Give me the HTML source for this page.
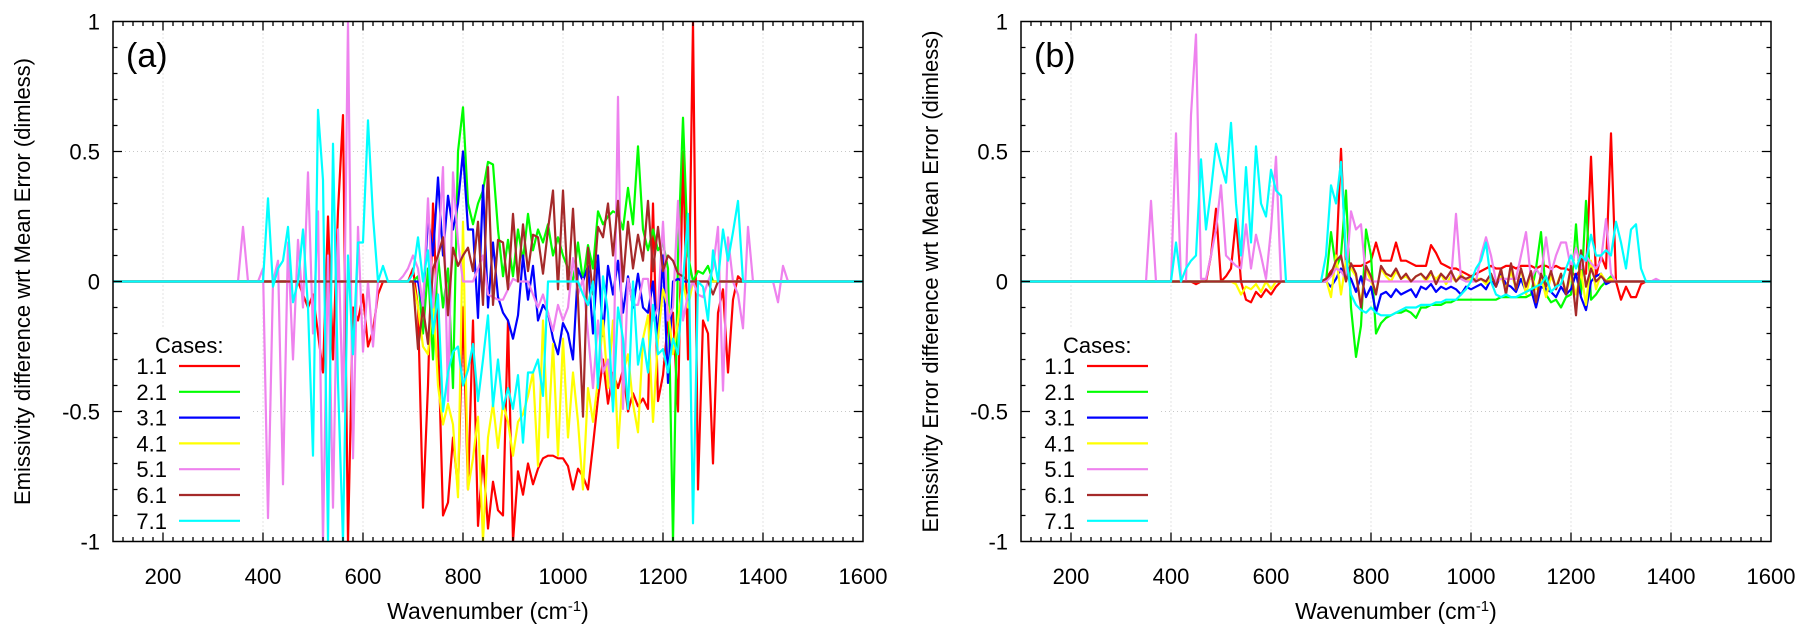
<!DOCTYPE html>
<html><head><meta charset="utf-8"><style>
html,body{margin:0;padding:0;background:#fff}
svg{display:block;font-family:"Liberation Sans",sans-serif}
</style></head><body>
<svg id="chart" width="1815" height="640" viewBox="0 0 1815 640" xmlns="http://www.w3.org/2000/svg">
<defs>
<clipPath id="clipA"><rect x="113" y="21.5" width="750" height="520"/></clipPath>
<clipPath id="clipB"><rect x="1021" y="21.5" width="750" height="520"/></clipPath>
</defs>
</svg>
<script>
// ---- data (wavenumber grid step 10 cm-1 starting at the given start) ----
const STEP = 10;
const caseLabels = ["1.1","2.1","3.1","4.1","5.1","6.1","7.1"];
const caseColors = ["#ff0000","#00ff00","#0000ff","#ffff00","#ee82ee","#a52a2a","#00ffff"];
const xTicks = [200,400,600,800,1000,1200,1400,1600];
const yTicks = [1,0.5,0,-0.5,-1];
const yTickLabels = ["1","0.5","0","-0.5","-1"];

// Panel (a)
const redAStart = 480;
const redA = [-0.05,-0.1,-0.05,-0.2,-0.35,0.25,-0.3,0.27,0.64,-1.0,-0.1,-0.15,-0.05,-0.25,-0.19,-0.05,0,0,0,0,0,0,
0.05,-0.1,-0.87,-0.4,0.3,-0.2,-0.9,-0.85,-0.6,-0.8,-0.1,-0.8,-0.15,-0.94,-0.67,-0.95,-0.77,-0.88,-0.9,-0.15,-1.0,-0.73,-0.82,-0.7,-0.78,-0.72,-0.68,-0.67,-0.67,-0.68,-0.68,-0.71,-0.8,-0.72,-0.75,-0.8,-0.63,-0.45,-0.3,-0.47,-0.35,-0.41,-0.34,-0.5,-0.43,-0.48,-0.45,-0.49,0.3,-0.46,-0.36,-0.15,-0.12,-0.5,0.5,-0.3,1.0,-0.8,-0.15,-0.2,-0.7,-0.12,-0.03,-0.35,-0.07,0.02,0];
const greenAStart = 700;
const greenA = [0,0.02,-0.2,0.05,-0.3,0.1,-0.1,0.05,-0.41,0.5,0.67,0.3,0.22,0.3,0.35,0.46,0.45,0.2,0.02,0.16,0.02,0.2,0.08,0.26,0.12,0.2,0.15,0.22,0.1,0.17,0.1,0.05,0.0,0.15,0.0,0.14,0.05,0.27,0.22,0.25,0.27,0.26,0.2,0.36,0.22,0.52,0.2,0.12,0.2,0.12,0.15,0.05,-1.0,0.1,0.63,0.1,0.0,0.04,0.03,0.06,0.0];
const blueAStart = 700;
const blueA = [0,0,-0.1,0.25,0.1,0.4,0.1,0.33,0.2,0.3,0.5,0.2,0.2,-0.14,0.37,-0.1,0.15,-0.06,-0.12,-0.15,-0.22,-0.13,0.1,-0.07,0.06,-0.15,-0.09,-0.12,-0.22,-0.28,-0.16,-0.2,-0.3,0.05,0.0,0.06,-0.2,0.1,-0.21,0.06,-0.05,0.08,-0.12,0.02,-0.1,0.03,-0.1,-0.12,0.0,-0.22,0.1,-0.39,0.0,0.01,0];
const yellowAStart = 700;
const yellowA = [0,-0.1,-0.25,-0.28,-0.05,-0.4,-0.55,-0.47,-0.55,-0.83,0.23,-0.8,-0.68,-0.52,-1.0,-0.6,-0.47,-0.64,-0.47,-0.54,-0.67,-0.54,-0.51,-0.44,-0.35,-0.71,-0.15,-0.6,-0.24,-0.67,-0.22,-0.6,-0.35,-0.54,-0.8,-0.41,-0.54,-0.38,-0.15,-0.41,-0.15,-0.64,-0.35,-0.28,-0.47,-0.58,-0.22,-0.13,-0.54,-0.22,-0.03,-0.1,-0.28,-0.15,0.0,-0.1,0.0];
const violetAStart = 300;
const violetA = [0,0,0,0,0,0,0.21,0,0,0,0.05,-0.91,0.0,0.08,-0.78,0.15,-0.3,0.16,-0.1,0.42,-0.2,0.27,-1.0,0.1,-0.87,0.2,-0.5,1.0,-0.68,0.21,-0.27,0.0,-0.25,0,0,0,0,0,0.02,0.05,
0.1,0.05,-0.1,0.32,-0.1,0.1,0.44,-0.46,0.42,0.15,0.0,0.0,0.0,0.05,0.1,-0.05,-0.06,-0.07,-0.07,-0.03,0.01,0.0,0.0,0.0,-0.05,
-0.1,-0.05,-0.12,-0.19,-0.09,-0.15,-0.1,0.09,-0.05,0.01,-0.2,-0.41,-0.15,-0.35,-0.3,-0.48,0.71,-0.49,0.01,-0.09,-0.09,0.01,0.01,-0.15,-0.1,0.23,-0.15,-0.1,0.31,-0.15,-0.05,0.0,-0.05,-0.06,0.0,0.05,0.21,-0.42,0.17,0.0,-0.05,-0.18,0.21,0,0,0,0,0,-0.08,0.06,0,0];
const brownAStart = 700;
const brownA = [0.0,-0.26,-0.1,-0.24,0.05,0.1,0.17,-0.13,0.13,0.06,0.1,0.13,0.04,0.23,-0.09,0.44,-0.09,0.16,0.15,-0.03,0.26,0.0,0.22,0.04,0.18,0.17,0.03,0.2,0.35,-0.03,0.35,-0.03,0.28,-0.07,-0.52,0.13,-0.05,0.21,0.17,0.3,0.1,0.31,0.0,0.23,0.05,0.18,0.08,0.31,0.04,0.21,0.04,0.1,0.08,0.03,0.02,0.0,0,0,0,0,-0.05,0];
const cyanAStart = 400;
const cyanA = [0,0.32,-0.02,0.05,0.08,0.21,-0.08,0.0,0.2,-0.1,-0.67,0.66,0.39,-1.0,0.53,-0.39,-1.0,0.1,-0.28,0.15,0.15,0.62,0.25,0.0,0.06,0,0,0,0,0,
0.03,0.17,0.0,0.12,-0.2,-0.05,-0.5,-0.35,-0.27,-0.25,-0.4,-0.34,-0.24,-0.46,-0.3,-0.13,-0.48,-0.3,-0.49,-0.41,-0.49,-0.36,-0.62,-0.35,-0.35,-0.3,-0.44,0.0,0,0,0,0,0,0,-0.05,-0.09,0.0,-0.41,0.02,-0.12,-0.5,-0.1,-0.22,-0.49,0.0,-0.32,-0.22,-0.35,-0.09,-0.28,-0.26,-0.35,-0.22,-0.28,0.0,0.26,-0.93,0.0,-0.02,-0.15,0.12,0.0,0.2,0.08,0.19,0.31,0.0,0,0];

// Panel (b)
const redBStart = 430;
const redB = [0,0,-0.01,0.0,0.0,0.1,0.28,0.0,0.02,0.05,0.24,0.0,-0.07,-0.08,-0.04,-0.06,-0.03,-0.05,-0.02,0.0,0,0,0,0,0,0,0,
0.0,0.01,0.04,0.06,0.51,0.06,0.06,0.06,0.06,0.07,0.08,0.15,0.08,0.08,0.08,0.15,0.08,0.08,0.07,0.06,0.06,0.06,0.14,0.11,0.07,0.06,0.05,0.05,0.04,0.03,0.02,0.03,0.04,0.05,0.06,0.05,0.05,0.06,0.06,0.05,0.06,0.06,0.06,0.05,0.06,0.06,0.05,0.06,0.05,0.05,0.04,0.02,0.05,0.03,0.48,0.02,0.1,0.05,0.57,0.0,-0.07,-0.02,-0.06,-0.06,-0.01,0.0];
const greenBStart = 700;
const greenB = [0,0.0,0.19,0.05,0.1,0.35,-0.1,-0.29,-0.17,0.2,0.1,-0.2,-0.16,-0.14,-0.13,-0.12,-0.12,-0.11,-0.12,-0.14,-0.1,-0.1,-0.09,-0.09,-0.09,-0.08,-0.08,-0.07,-0.07,-0.07,-0.07,-0.07,-0.07,-0.07,-0.07,-0.07,-0.06,-0.06,-0.06,-0.06,-0.06,-0.06,-0.05,0.05,0.19,-0.05,-0.08,-0.07,-0.1,-0.06,-0.05,0.22,-0.05,0.31,-0.07,-0.05,-0.02,0.0,0.02,0.0,0];
const blueBStart = 700;
const blueB = [0,0,-0.02,0.01,0.05,0.03,0.01,-0.04,0.02,-0.06,-0.02,-0.12,-0.05,-0.04,-0.06,-0.03,-0.05,-0.04,-0.03,-0.06,-0.02,-0.03,-0.01,-0.04,-0.02,-0.03,-0.02,-0.03,-0.05,-0.02,-0.03,-0.02,-0.01,-0.03,0.01,-0.02,0.03,-0.01,-0.02,-0.04,0.01,-0.04,-0.03,-0.1,-0.02,-0.03,-0.04,-0.06,-0.02,-0.05,-0.03,0.03,-0.06,-0.11,0.0,0.02,0.03,-0.01,0.0];
const yellowBStart = 520;
const yellowB = [0,-0.01,-0.05,-0.02,-0.03,-0.01,-0.04,0,-0.03,0,0,0,0,0,0,0,0,0,
0,0.01,-0.06,0.1,-0.05,0.08,0.05,0.02,-0.08,0.05,0.0,-0.04,0.05,0.02,0.0,0.04,0.01,0.02,0.0,0.02,0.03,0.0,0.03,0.01,0.03,-0.01,0.02,0.0,0.03,0.0,0.01,0.01,0.01,-0.01,0.01,0.0,0.02,-0.03,0.04,-0.03,0.05,-0.05,0.03,-0.03,0.02,-0.06,0.02,-0.02,0.03,-0.04,0.02,-0.05,0.04,-0.09,0.08,-0.03,0.03,0.0,0.01,0.0,0];
const violetBStart = 300;
const violetB = [0,0,0,0,0,0,0.31,0.0,0,0,0.0,0.57,0.0,0.0,0.64,0.95,0.01,0.01,0.1,0.2,0.37,0.1,0.08,0.06,0.05,0.22,0.05,0.18,0.1,0.01,0.2,0.48,0.0,0,0,0,0,0,0,0,
0,0.0,0.02,0.05,0.04,0.01,0.27,0.2,0.22,0.01,0,0,0,0,0,0,0,0,0,0,0,0,0,0,0,0,0,0.26,0.01,0,0,0,0.1,0.17,0.1,0.0,0.01,0.01,0.01,0.01,0.1,0.19,0.01,0.05,0.02,0.17,0.03,0.1,0.15,0.15,0.05,0.13,0.05,0.1,0.07,0.05,0.08,0.24,0.03,0,0,0,0,0,0,0,0,0.01,0];
const brownBStart = 700;
const brownB = [0,0.01,0.03,0.08,0.1,0.0,0.07,0.03,-0.1,0.06,0.02,-0.05,0.06,0.03,0.02,0.05,0.01,0.03,0.0,0.02,0.03,0.01,0.04,-0.01,0.03,0.01,0.04,0.0,0.02,0.01,0.02,0.0,0.01,0.0,0.03,-0.02,0.05,-0.05,0.07,-0.03,0.05,-0.02,0.04,-0.08,0.03,-0.02,0.04,-0.03,0.03,-0.05,0.06,-0.13,0.12,-0.02,0.05,0.0,0.02,0.0,0.0];
const cyanBStart = 400;
const cyanB = [0.0,0.15,0.0,0.05,0.08,0.1,0.47,0.2,0.35,0.53,0.45,0.38,0.61,0.3,0.1,0.44,0.15,0.52,0.3,0.25,0.43,0.35,0.33,0.0,0,0,0,0,0,0,0,
0.1,0.37,0.3,0.46,0.1,-0.05,-0.09,-0.11,-0.12,-0.1,-0.12,-0.13,-0.13,-0.13,-0.12,-0.11,-0.1,-0.1,-0.1,-0.09,-0.09,-0.09,-0.08,-0.08,-0.07,-0.07,-0.07,-0.05,-0.03,0.0,0.05,0.08,0.15,0.0,-0.05,-0.06,-0.05,-0.06,-0.06,-0.05,-0.04,-0.03,-0.02,-0.01,0.02,-0.04,-0.02,-0.01,0.05,0.1,0.05,0.1,0.08,0.18,0.1,0.1,0.12,0.1,0.23,0.15,0.05,0.2,0.22,0.05,0.0,0.0,0];

const seriesA = [[redA,redAStart],[greenA,greenAStart],[blueA,blueAStart],[yellowA,yellowAStart],[violetA,violetAStart],[brownA,brownAStart],[cyanA,cyanAStart]];
const seriesB = [[redB,redBStart],[greenB,greenBStart],[blueB,blueBStart],[yellowB,yellowBStart],[violetB,violetBStart],[brownB,brownBStart],[cyanB,cyanBStart]];

const NS = "http://www.w3.org/2000/svg";
const svg = document.getElementById("chart");
const Y0 = 281.5, YS = 260, TOP = 21.5, BOT = 541.5;
const FS = 22;
function yPix(v){ return Y0 - v*YS; }
function mk(tag, attrs, parent){ const e = document.createElementNS(NS, tag); for (const k in attrs) e.setAttribute(k, attrs[k]); (parent||svg).appendChild(e); return e; }

function panel(left, series, tag, ylabel){
  const xPix = w => left + (w-100)*0.5;
  const right = left + 750;
  const g = mk("g", {});
  
  
  for (const t of [200,400,600,800,1000,1200,1400]) {
    const l = mk("line", {x1:xPix(t), x2:xPix(t), y1:TOP, y2:BOT, stroke:"#c8c8c8", "stroke-width":1, "stroke-dasharray":"1,3"}, g);
    
    
  }
  for (const v of [0.5,-0.5]) {
    const l = mk("line", {x1:left, x2:right, y1:yPix(v), y2:yPix(v), stroke:"#c8c8c8", "stroke-width":1, "stroke-dasharray":"1,3"}, g);
    
    
  }
  const sg = mk("g", {"clip-path":"url(#clip"+tag.toUpperCase()+")"}, g);
  series.forEach((s, i) => {
    const vals = s[0], start = s[1];
    const pts = [[xPix(100), yPix(0)], [xPix(start-STEP), yPix(0)]];
    vals.forEach((v, j) => pts.push([xPix(start + j*STEP), yPix(v)]));
    pts.push([xPix(start + vals.length*STEP), yPix(0)]);
    pts.push([xPix(1600), yPix(0)]);
    const p = mk("polyline", {points: pts.map(q => q[0].toFixed(1)+","+q[1].toFixed(1)).join(" "), fill:"none", stroke:caseColors[i], "stroke-width":2.2, "stroke-linejoin":"round"}, sg);
    
    
  });
  const lg = mk("g", {}, g);
  
  
  mk("rect", {x:left+1, y:328, width:139, height:212, fill:"#fff"}, lg);
  const ct = mk("text", {x:left+42, y:353, "font-size":FS, fill:"#000"}, lg);
  ct.textContent = "Cases:";
  
  
  caseLabels.forEach((c, i) => {
    const yy = 366 + i*25.8;
    const t = mk("text", {x:left+54, y:yy+8, "font-size":FS, "text-anchor":"end", fill:"#000"}, lg);
    t.textContent = c;
    
    
    const l = mk("line", {x1:left+66, x2:left+127, y1:yy, y2:yy, stroke:caseColors[i], "stroke-width":2.2}, lg);
    
    
  });
  const fr = mk("rect", {x:left, y:TOP, width:750, height:BOT-TOP, fill:"none", stroke:"#000", "stroke-width":1.5}, g);
  
  
  let d = "";
  for (let w = 120; w < 1600; w += 20) {
    const len = (w % 200 === 0) ? 9 : 4.5;
    const x = xPix(w);
    d += `M${x},${BOT}v${-len}M${x},${TOP}v${len}`;
  }
  for (let k = -9; k <= 9; k++) {
    const len = (k % 5 === 0) ? 9 : 4.5;
    const y = yPix(k/10);
    d += `M${left},${y}h${len}M${right},${y}h${-len}`;
  }
  const tk = mk("path", {d:d, stroke:"#000", "stroke-width":1.3, fill:"none"}, g);
  
  
  xTicks.forEach(t => {
    const e = mk("text", {x:xPix(t), y:584, "font-size":FS, "text-anchor":"middle", fill:"#000"}, g);
    e.textContent = String(t);
    
    
  });
  yTicks.forEach((v, i) => {
    const e = mk("text", {x:left-13, y:yPix(v)+8, "font-size":FS, "text-anchor":"end", fill:"#000"}, g);
    e.textContent = yTickLabels[i];
    
    
  });
  const xt = mk("text", {x:left+375, y:619, "font-size":23, "text-anchor":"middle", fill:"#000"}, g);
  xt.innerHTML = 'Wavenumber (cm<tspan dy="-8" font-size="15">-1</tspan><tspan dy="8">)</tspan>';
  
  
  const yx = left - 83;
  const yt = mk("text", {x:yx, y:Y0, "font-size":22, "text-anchor":"middle", fill:"#000", transform:`rotate(-90 ${yx} ${Y0})`}, g);
  yt.textContent = ylabel;
  
  
  const pl = mk("text", {x:left+13, y:67, "font-size":34, fill:"#000"}, g);
  pl.textContent = "(" + tag + ")";
  
  
}
panel(113, seriesA, "a", "Emissivity difference wrt Mean Error (dimless)");
panel(1021, seriesB, "b", "Emissivity Error difference wrt Mean Error (dimless)");
</script>
</body></html>
